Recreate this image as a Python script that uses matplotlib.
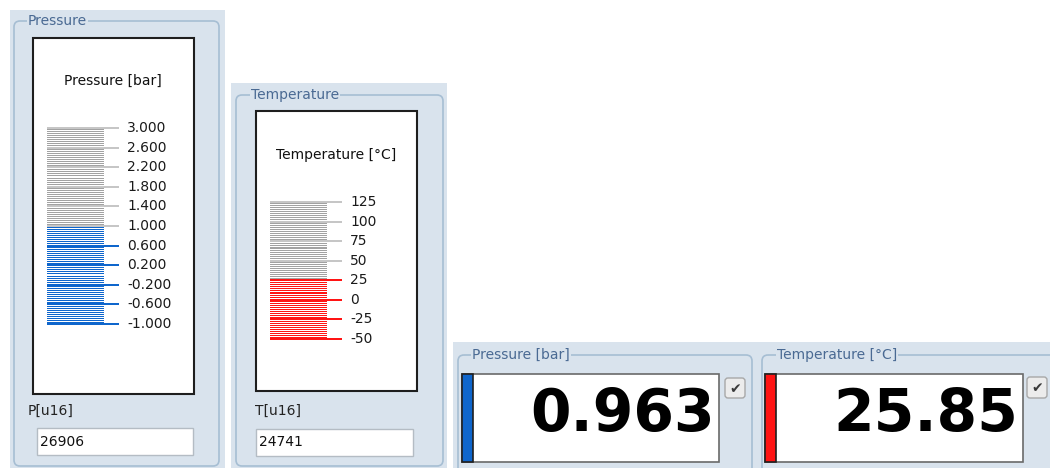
import numpy as np
import matplotlib
matplotlib.use("Agg")
from matplotlib import pyplot as plt
from matplotlib.patches import Rectangle, FancyBboxPatch

# gauge data
pressure_title = "Pressure"
pressure_unit = "Pressure [bar]"
pressure_min, pressure_max = -1.0, 3.0
pressure_major = 0.4
pressure_minor = 0.04
pressure_value = 0.963
pressure_raw = "26906"

temp_title = "Temperature"
temp_unit = "Temperature [°C]"
temp_min, temp_max = -50.0, 125.0
temp_major = 25.0
temp_minor = 2.5
temp_value = 25.85
temp_raw = "24741"

W, H = 1050, 468
BG = "#d9e3ed"
FRAME = "#a6bed3"
TITLE = "#4a6a93"
GRAY_MINOR = "#a2a2a2"
GRAY_MAJOR = "#c6c6c6"
BLUE = "#0f66cc"
RED = "#ff1414"

plt.rcParams["font.family"] = ["DejaVu Sans"]

fig = plt.figure(figsize=(W / 100, H / 100), dpi=100)
fig.patch.set_facecolor("white")
ax = fig.add_axes([0, 0, 1, 1])
ax.set_xlim(0, W)
ax.set_ylim(H, 0)
ax.axis("off")


def rect(x0, y0, x1, y1, **kw):
    ax.add_patch(Rectangle((x0, y0), x1 - x0, y1 - y0, **kw))


def group(x0, y0, x1, y1, title, tx):
    ax.add_patch(FancyBboxPatch((x0, y0), x1 - x0, y1 - y0,
                                boxstyle="round,pad=0,rounding_size=6",
                                fc="none", ec=FRAME, lw=1.2))
    ax.text(tx, y0, title, fontsize=10, color=TITLE, va="center", ha="left",
            bbox=dict(fc=BG, ec="none", pad=0.6))


def checkbox(x0, y0, x1, y1):
    ax.add_patch(FancyBboxPatch((x0, y0), x1 - x0, y1 - y0,
                                boxstyle="round,pad=0,rounding_size=3",
                                fc="#ececec", ec="#a8a8a8", lw=1))
    ax.text((x0 + x1) / 2, (y0 + y1) / 2 + 1, "\u2714", fontsize=10,
            color="#3a3a3a", ha="center", va="center")


def scale(x0, y_top, y_bot, vmin, vmax, major, minor, value, color, fmt,
          minor_len, major_len, label_x):
    sa = fig.add_axes([x0 / W, 1 - (y_bot + 2) / H, 110 / W, (y_bot - y_top + 4) / H])
    sa.set_xlim(x0, x0 + 110)
    pad = (vmax - vmin) * 2 / (y_bot - y_top)
    sa.set_ylim(vmin - pad, vmax + pad)
    sa.axis("off")
    n = int(round((vmax - vmin) / minor))
    every = int(round(major / minor))
    for i in range(n + 1):
        v = vmin + i * minor
        is_major = i % every == 0
        if v <= value:
            c = color
        else:
            c = GRAY_MAJOR if is_major else GRAY_MINOR
        end = major_len if is_major else minor_len
        sa.barh(v, end - x0, left=x0, height=minor * (1.0 if is_major else 0.5),
                color=c, lw=0)
        if is_major:
            sa.text(label_x, v, fmt(v), fontsize=10, color="#1a1a1a",
                    va="center", ha="left")


# ---- pressure gauge panel
rect(10, 10, 225, 470, fc=BG, ec="none")
group(14, 21, 219, 466, pressure_title, 28)
rect(33, 38, 194, 394, fc="white", ec="#1e1e1e", lw=1.5)
ax.text(113, 81, pressure_unit, fontsize=10, color="#111111", ha="center", va="center")
scale(47, 128, 324, pressure_min, pressure_max, pressure_major, pressure_minor,
      pressure_value, BLUE, lambda v: "%.3f" % v, 104, 119, 127)
ax.text(28, 411, "P[u16]", fontsize=10, color="#222222", va="center")
rect(37, 428, 193, 455, fc="white", ec="#b4bcc4", lw=1)
ax.text(40, 441.5, pressure_raw, fontsize=10, color="#111111", va="center")

# ---- temperature gauge panel
rect(231, 83, 447, 470, fc=BG, ec="none")
group(236, 95, 443, 466, temp_title, 251)
rect(256, 111, 417, 391, fc="white", ec="#1e1e1e", lw=1.5)
ax.text(336, 155, temp_unit, fontsize=10, color="#111111", ha="center", va="center")
scale(270, 202, 339, temp_min, temp_max, temp_major, temp_minor,
      temp_value, RED, lambda v: "%d" % v, 327, 342, 350)
ax.text(255, 411, "T[u16]", fontsize=10, color="#222222", va="center")
rect(256, 429, 413, 456, fc="white", ec="#b4bcc4", lw=1)
ax.text(259, 442.5, temp_raw, fontsize=10, color="#111111", va="center")

# ---- numeric readouts
rect(453, 342, 755, 470, fc=BG, ec="none")
group(458, 355, 752, 480, pressure_unit, 472)
rect(462, 374, 719, 462, fc="white", ec="#6a6a6a", lw=1.2)
rect(462, 374, 473, 462, fc=BLUE, ec="#202020", lw=1.2)
ax.text(715, 414, "%.3f" % pressure_value, fontsize=42, fontweight="bold",
        color="black", ha="right", va="center")
checkbox(725, 378, 745, 398)

rect(755, 342, 1052, 470, fc=BG, ec="none")
group(762, 355, 1070, 480, temp_unit, 777)
rect(765, 374, 1023, 462, fc="white", ec="#6a6a6a", lw=1.2)
rect(765, 374, 776, 462, fc=RED, ec="#202020", lw=1.2)
ax.text(1018, 414, "%.2f" % temp_value, fontsize=42, fontweight="bold",
        color="black", ha="right", va="center")
checkbox(1027, 377, 1047, 398)

fig.savefig("out.png", dpi=100, facecolor="white")
